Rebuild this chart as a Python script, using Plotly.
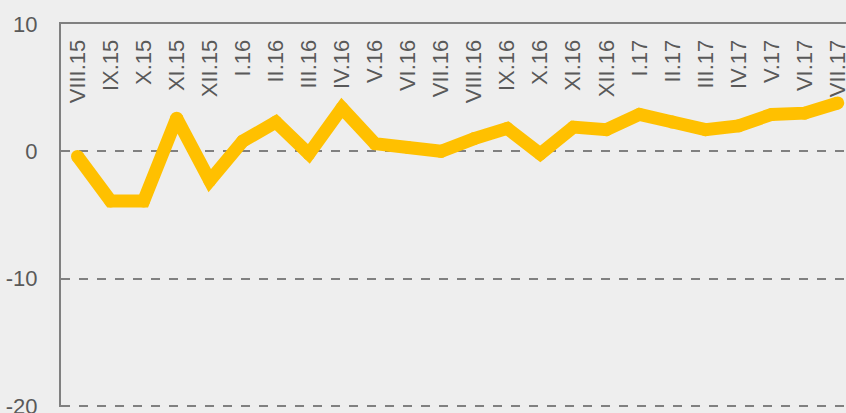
import plotly.graph_objects as go

# Monthly series, August 2015 – July 2017
months = [
    "VIII.15", "IX.15", "X.15", "XI.15", "XII.15", "I.16", "II.16", "III.16",
    "IV.16", "V.16", "VI.16", "VII.16", "VIII.16", "IX.16", "X.16", "XI.16",
    "XII.16", "I.17", "II.17", "III.17", "IV.17", "V.17", "VI.17", "VII.17",
]
values = [
    -0.4, -3.9, -3.9, 2.6, -2.3, 0.8, 2.3, -0.2,
    3.4, 0.6, 0.3, 0.0, 1.0, 1.8, -0.2, 1.9,
    1.7, 2.9, 2.3, 1.7, 2.0, 2.9, 3.0, 3.8,
]
y_ticks = [-20, -10, 0, 10]

LINE_COLOR = "#FFC000"
TEXT_COLOR = "#595959"
AXIS_COLOR = "#808080"
BG = "#eeeeee"
FONT = "Liberation Sans"

fig = go.Figure()
fig.add_trace(go.Scatter(
    x=months,
    y=values,
    mode="lines+markers",
    line=dict(color=LINE_COLOR, width=13),
    marker=dict(color=LINE_COLOR, size=13, line=dict(width=0)),
    hoverinfo="x+y",
    showlegend=False,
))

fig.update_layout(
    width=846,
    height=413,
    margin=dict(l=61, r=0, t=24, b=6, autoexpand=False),
    paper_bgcolor=BG,
    plot_bgcolor=BG,
    font=dict(family=FONT, color=TEXT_COLOR),
    xaxis=dict(
        type="category",
        categoryorder="array",
        categoryarray=months,
        range=[-0.5, 23.25],
        side="top",
        ticklabelposition="inside",
        ticklabeloverflow="allow",
        ticklabelstandoff=5,
        tickangle=-90,
        tickfont=dict(size=22, color=TEXT_COLOR, family=FONT),
        showgrid=False,
        zeroline=False,
        showline=True,
        linecolor=AXIS_COLOR,
        linewidth=2,
        ticks="",
        automargin=False,
        fixedrange=True,
    ),
    yaxis=dict(
        # a hair below -20 so the bottom dashed gridline stays inside the plot
        range=[-20.08, 10],
        tickvals=y_ticks,
        ticktext=[str(v) for v in y_ticks],
        tickfont=dict(size=22, color=TEXT_COLOR, family=FONT),
        ticklabelstandoff=17,
        ticklabeloverflow="allow",
        ticks="",
        showgrid=True,
        gridcolor=AXIS_COLOR,
        griddash="dash",
        gridwidth=1.5,
        zeroline=False,
        showline=True,
        linecolor=AXIS_COLOR,
        linewidth=2,
        automargin=False,
        fixedrange=True,
    ),
)

fig.write_html("out.html")
